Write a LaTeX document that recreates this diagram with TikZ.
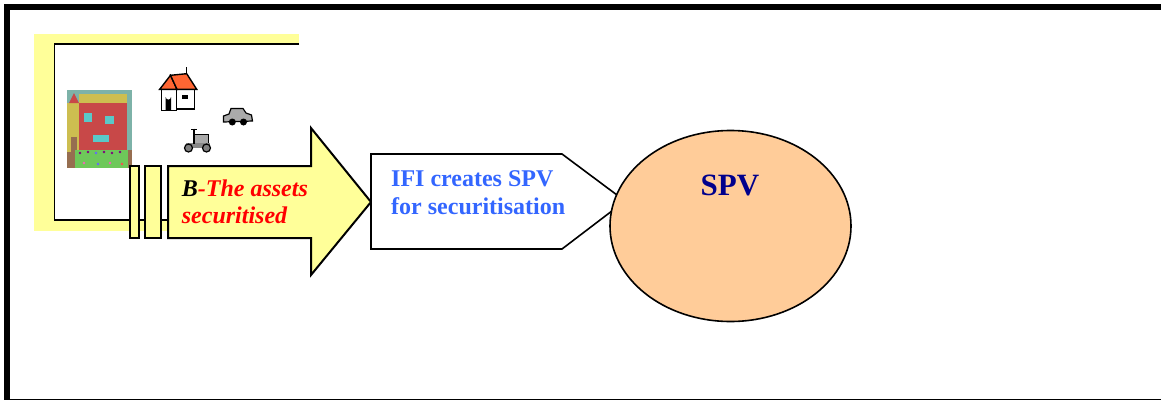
\documentclass[tikz,border=0pt]{standalone}
\usepackage{fontspec}
\setmainfont{Liberation Serif}
\usetikzlibrary{shapes.geometric}
\definecolor{pyellow}{RGB}{255,255,153}
\definecolor{peach}{RGB}{255,204,153}
\definecolor{ifiblue}{RGB}{51,102,255}
\definecolor{spvnavy}{RGB}{0,0,140}
\definecolor{arrred}{RGB}{255,0,0}
\definecolor{teal1}{RGB}{125,178,168}
\definecolor{ochre}{RGB}{205,190,80}
\definecolor{brick}{RGB}{200,72,72}
\definecolor{winc}{RGB}{90,200,200}
\definecolor{bush}{RGB}{110,200,90}
\definecolor{brownish}{RGB}{150,110,80}
\definecolor{roofor}{RGB}{255,102,51}
\definecolor{clipgrey}{RGB}{170,170,170}
\begin{document}
\begin{tikzpicture}[x=1pt,y=-1pt,line join=miter,
  arrowshape/.style={draw=black,line width=2pt,fill=pyellow},
  calloutshape/.style={draw=black,line width=1.6pt,fill=white},
  txt/.style={inner sep=0pt,anchor=base west,font=\fontsize{24}{28}\selectfont\bfseries},
  clipline/.style={draw=black,line width=1.4pt}]
\useasboundingbox (0,0) rectangle (1161,402);
% outer frame
\draw[line width=6pt] (7,399.5) -- (7,7) -- (1161,7);
\draw[line width=1.5pt] (7,399.5) -- (1161,399.5);
% picture frame
\fill[pyellow] (34,34) rectangle (299,231);
\fill[white] (54.5,44) rectangle (299,220);
\draw[line width=1.5pt] (299,44) -- (54.5,44) -- (54.5,220) -- (299,220);
% painting
\fill[teal1] (66.7,89.7) rectangle (132,167.7);
\fill[ochre] (67,103) rectangle (79,163);
\fill[brick] (69,103) -- (74,93) -- (79,103) -- cycle;
\fill[ochre] (79,94) rectangle (127,103);
\fill[brick] (79,103) rectangle (127,152);
\fill[winc] (83.7,113) rectangle (92,122);
\fill[winc] (104.7,115.7) rectangle (113.7,124.3);
\fill[winc] (92.7,135) rectangle (108.7,142.3);
\fill[brownish] (71,137) rectangle (77,152);
\fill[brownish] (66.7,152) rectangle (77,167.7);
\fill[brownish] (125,150) rectangle (132,167.7);
\fill[bush] (75,150) rectangle (128,167.7);
\foreach \px/\py/\pc in {80/153/violet,88/152/violet,96/153/blue!60,104/152/violet,112/153/violet,120/152/violet,84/163/magenta!60,98/164/blue!60,110/163/magenta!60,122/164/red!70}
  \fill[\pc] (\px,\py) circle (1.3);
% small house
\draw[clipline,fill=white] (161.7,89.3) rectangle (176.7,110.5);
\draw[clipline,fill=white] (176.7,89.3) rectangle (194.5,109);
\draw[clipline,fill=roofor] (159.7,89.3) -- (170.5,75.3) -- (177,89.3) -- cycle;
\draw[clipline,fill=roofor] (170.5,75.3) -- (186.7,73.7) -- (196.7,89.3) -- (177,89.3) -- cycle;
\draw[clipline] (186.7,73.7) -- (186.7,67);
\fill[black] (165.7,110.5) -- (165.7,97) arc[start angle=180,end angle=0,radius=2.65] -- (171,110.5) -- cycle;
\fill[black] (182,94.5) rectangle (187.5,99);
% car
\draw[draw=black,line width=1.2pt,fill=clipgrey] (223.5,122) -- (223.5,116) -- (229,114) -- (231,108.5) -- (243,108.5) -- (246,113) -- (251.5,115) -- (252.5,121) -- cycle;
\fill[black] (232.3,122) circle (3.5);
\fill[black] (243.5,122) circle (3.5);
% wheelchair
\draw[draw=black,line width=1pt,fill=clipgrey] (193.5,134) rectangle (208,144);
\fill[clipgrey!80!black] (186,143) rectangle (210,148);
\draw[line width=2pt] (193.5,128.5) -- (193.5,144);
\draw[line width=1.5pt] (191,129.5) -- (197,129.5);
\draw[draw=black,line width=1.2pt,fill=gray] (188.5,148) circle (4);
\draw[draw=black,line width=1.2pt,fill=gray] (206.5,148) circle (4);
% big arrow with two bars
\draw[arrowshape] (130,166) rectangle (138.5,238);
\draw[arrowshape] (145,166) rectangle (161,238);
\draw[arrowshape] (168,166) -- (311,166) -- (311,128) -- (371,202) -- (311,275) -- (311,238) -- (168,238) -- cycle;
\node[txt] (btxt1) at (181.7,196.7) {\itshape B\textcolor{arrred}{-The assets}};
\node[txt,text=arrred] (btxt2) at (181.7,223.3) {\itshape securitised};
% callout
\coordinate (tip) at (625,201);
\draw[calloutshape] (371,154) -- (562,154) -- (tip) -- (562,249) -- (371,249) -- cycle;
\node[txt,text=ifiblue] (ifi1) at (391,186.7) {IFI creates SPV};
\node[txt,text=ifiblue] (ifi2) at (391,214) {for securitisation};
% SPV ellipse
\node[ellipse,draw=black,line width=1.6pt,fill=peach,minimum width=241pt,minimum height=191pt,inner sep=0pt] (spv) at (730.5,226) {};
\node[inner sep=0pt,anchor=base,text=spvnavy,font=\fontsize{31}{36}\selectfont\bfseries] (spvlabel) at (730,195.7) {SPV};
\end{tikzpicture}
\end{document}
